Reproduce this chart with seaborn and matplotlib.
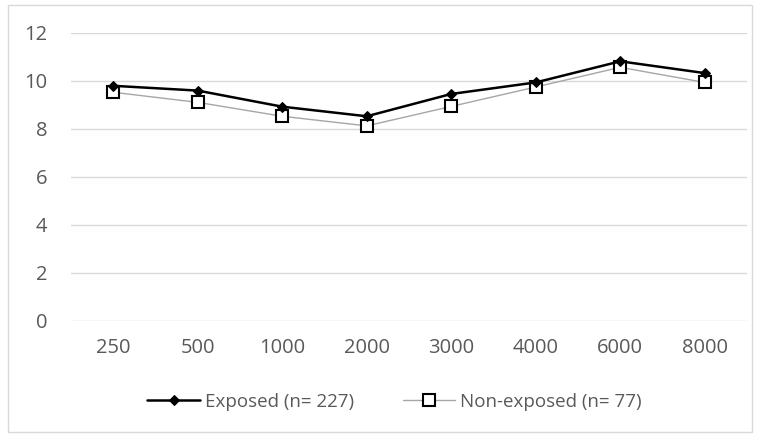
import pandas as pd
import matplotlib
matplotlib.use("Agg")
import matplotlib.pyplot as plt
import seaborn as sns
from matplotlib.patches import Rectangle

# Data
frequencies = ['250', '500', '1000', '2000', '3000', '4000', '6000', '8000']
exposed = [9.80, 9.60, 8.93, 8.53, 9.46, 9.94, 10.82, 10.33]
non_exposed = [9.53, 9.11, 8.53, 8.13, 8.94, 9.75, 10.57, 9.94]
y_ticks = [0, 2, 4, 6, 8, 10, 12]

sns.set_theme(style='white')
plt.rcParams['font.family'] = ['Open Sans', 'DejaVu Sans']

df = pd.DataFrame({'freq': frequencies, 'exposed': exposed, 'non_exposed': non_exposed})

fig = plt.figure(figsize=(7.59, 4.37), dpi=100)
ax = fig.add_axes([71 / 759, 1 - 321 / 437, 676 / 759, 288 / 437])

# light border round the whole chart
fig.patches.append(Rectangle((8 / 759, 1 - 432 / 437), 744 / 759, 427 / 437,
                             transform=fig.transFigure, fill=False,
                             edgecolor='#d9d9d9', linewidth=1))

sns.lineplot(data=df, x='freq', y='non_exposed', ax=ax, sort=False,
             color='#a6a6a6', linewidth=1.0, marker='s', markersize=8,
             markerfacecolor='white', markeredgecolor='black', markeredgewidth=1.5,
             label='Non-exposed (n= 77)', zorder=3)
sns.lineplot(data=df, x='freq', y='exposed', ax=ax, sort=False,
             color='black', linewidth=1.8, marker='D', markersize=5,
             markerfacecolor='black', markeredgecolor='black',
             label='Exposed (n= 227)', zorder=4)

ax.set_xlim(-0.5, len(frequencies) - 0.5)
ax.set_ylim(0, 12)
ax.set_yticks(y_ticks)
ax.yaxis.grid(True, color='#d9d9d9', linewidth=1)
ax.set_axisbelow(True)
for s in ax.spines.values():
    s.set_visible(False)
ax.tick_params(axis='both', length=0, labelsize=14.5, labelcolor='#595959')
ax.tick_params(axis='y', pad=17)
ax.tick_params(axis='x', pad=12)
ax.set_xlabel('')
ax.set_ylabel('')

handles, labels = ax.get_legend_handles_labels()
ax.legend(handles[::-1], labels[::-1], loc='center', bbox_to_anchor=(0.52, 0.08),
          bbox_transform=fig.transFigure, ncol=2, frameon=False, fontsize=13.5,
          labelcolor='#595959', handlelength=2.8, handletextpad=0.27, columnspacing=2.6)

fig.savefig('out.png', dpi=100)
